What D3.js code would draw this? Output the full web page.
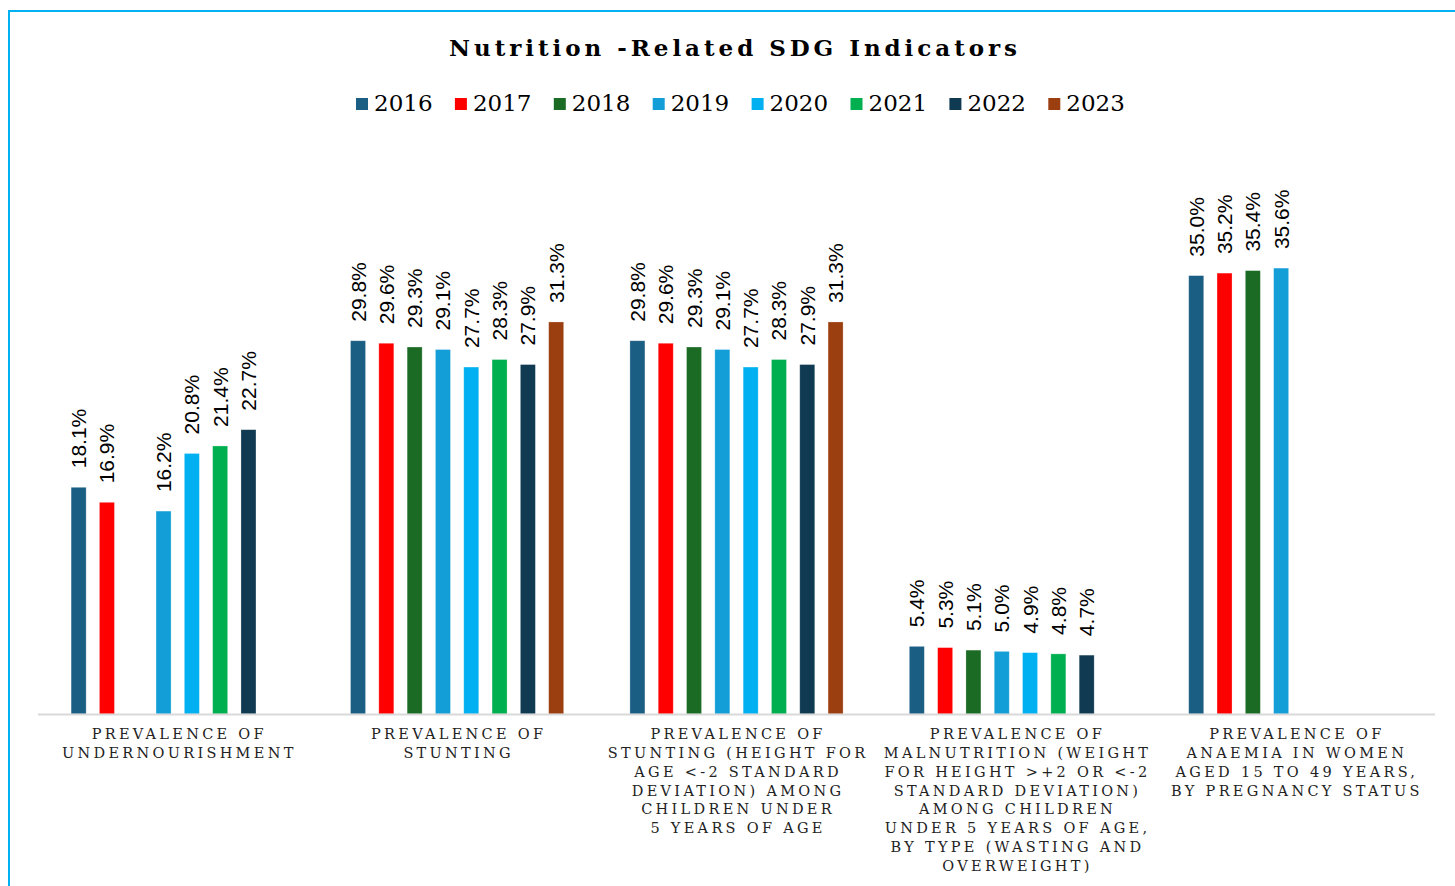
<!DOCTYPE html>
<html><head><meta charset="utf-8">
<script src="https://cdn.jsdelivr.net/npm/d3@7"></script>
<style>body{margin:0;background:#fff}svg{display:block}</style>
</head><body>
<svg id="chart" width="1455" height="886"></svg>
<script>
const categories = [
  ["PREVALENCE OF","UNDERNOURISHMENT"],
  ["PREVALENCE OF","STUNTING"],
  ["PREVALENCE OF","STUNTING (HEIGHT FOR","AGE <-2 STANDARD","DEVIATION) AMONG","CHILDREN UNDER","5 YEARS OF AGE"],
  ["PREVALENCE OF","MALNUTRITION (WEIGHT","FOR HEIGHT >+2 OR <-2","STANDARD DEVIATION)","AMONG CHILDREN","UNDER 5 YEARS OF AGE,","BY TYPE (WASTING AND","OVERWEIGHT)"],
  ["PREVALENCE OF","ANAEMIA IN WOMEN","AGED 15 TO 49 YEARS,","BY PREGNANCY STATUS"]
];
const years = ["2016","2017","2018","2019","2020","2021","2022","2023"];
const colors = ["#1a5e83","#ff0000","#1c6b25","#139ed7","#00b0f0","#00b050","#0f3a51","#9c3f10"];
const v2016 = [18.1, 29.8, 29.8, 5.4, 35.0];
const v2017 = [16.9, 29.6, 29.6, 5.3, 35.2];
const v2018 = [null, 29.3, 29.3, 5.1, 35.4];
const v2019 = [16.2, 29.1, 29.1, 5.0, 35.6];
const v2020 = [20.8, 27.7, 27.7, 4.9, null];
const v2021 = [21.4, 28.3, 28.3, 4.8, null];
const v2022 = [22.7, 27.9, 27.9, 4.7, null];
const v2023 = [null, 31.3, 31.3, null, null];
const series = [v2016,v2017,v2018,v2019,v2020,v2021,v2022,v2023];
const title = "Nutrition -Related SDG Indicators";

const svg = d3.select("#chart");
const serif = "'DejaVu Serif', serif";
const sans = "'Liberation Sans', Arial, sans-serif";

// border
svg.append("rect").attr("x",9).attr("y",11).attr("width",1470).attr("height",900)
  .attr("fill","none").attr("stroke","#00b0f0").attr("stroke-width",2);

const catIdx = categories.map((c,i)=>i);
const x0 = d3.scaleBand().domain(catIdx).range([38,1435]).padding(0);
const x1 = d3.scaleBand().domain(years).range([0,x0.bandwidth()]).paddingInner(0.47).paddingOuter(1.17);
const y = d3.scaleLinear().domain([0,40]).range([714,213]);

// title
const t = svg.append("text").attr("x",735).attr("y",56).attr("text-anchor","middle")
  .attr("font-family",serif).attr("font-weight","bold").attr("font-size",23)
  .attr("fill","#000").text(title);
{
  const nat = t.node().getComputedTextLength();
  const ls = (572 - nat)/title.length;
  t.attr("letter-spacing", ls);
}

// legend
const leg = svg.append("g");
years.forEach((yr,i)=>{
  const gx = 356 + i*98.9;
  leg.append("rect").attr("x",gx).attr("y",98).attr("width",12).attr("height",12).attr("fill",colors[i]);
  leg.append("text").attr("x",gx+18).attr("y",111).attr("font-family",serif).attr("font-size",23)
    .attr("fill","#000").text(yr);
});

// bars
const groups = svg.append("g");
catIdx.forEach(ci=>{
  years.forEach((yr,si)=>{
    const v = series[si][ci];
    if(v==null) return;
    const bx = x0(ci)+x1(yr);
    groups.append("rect").attr("x",bx).attr("y",y(v)).attr("width",x1.bandwidth())
      .attr("height",y(0)-y(v)).attr("fill",colors[si])
      .attr("stroke","rgba(255,255,255,0.35)").attr("stroke-width",0.75);
    const cx = bx + x1.bandwidth()/2;
    const ly = y(v) - 19;
    groups.append("text").attr("transform",`translate(${cx+7.5},${ly}) rotate(-90)`)
      .attr("font-family",sans).attr("font-size",21).attr("fill","#000")
      .text(v.toFixed(1)+"%");
  });
});

// axis line
svg.append("line").attr("x1",38).attr("x2",1435).attr("y1",y(0)+0.5).attr("y2",y(0)+0.5)
  .attr("stroke","#d9d9d9").attr("stroke-width",2);

// category labels
catIdx.forEach(ci=>{
  const cx = x0(ci)+x0.bandwidth()/2;
  const tx = svg.append("text").attr("text-anchor","middle").attr("font-family",serif)
    .attr("font-size",14.5).attr("fill","#222").attr("letter-spacing",3.3);
  categories[ci].forEach((line,li)=>{
    tx.append("tspan").attr("x",cx+1.6).attr("y",739+li*18.85).text(line);
  });
});
</script>
</body></html>
